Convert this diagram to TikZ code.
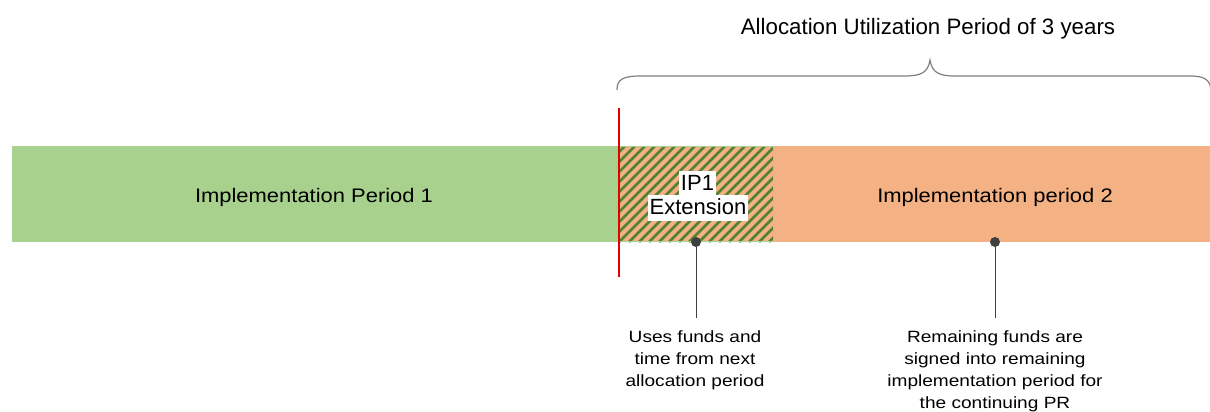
\documentclass[tikz,border=0pt]{standalone}
\usepackage{fontspec}
\setmainfont{Liberation Sans}
\newfontfamily\widefont{Liberation Sans}[FakeStretch=1.12]
\newfontfamily\widesmall{Liberation Sans}[FakeStretch=1.17]
\definecolor{barGreen}{HTML}{A9D18E}
\definecolor{barOrange}{HTML}{F4B183}
\definecolor{stripeGreen}{HTML}{548235}
\definecolor{braceGrey}{HTML}{808080}
\definecolor{dotGrey}{HTML}{404040}
\definecolor{redLine}{HTML}{E00000}
\tikzset{
  titletext/.style={font=\fontsize{22.3}{26}\selectfont, text=black, anchor=base},
  bigtext/.style={font=\widefont\fontsize{19.6}{24}\selectfont, text=black, anchor=base},
  smalltext/.style={font=\widesmall\fontsize{16.3}{22}\selectfont, align=center, text=black, anchor=base},
  whitelabel/.style={font=\fontsize{22}{26}\selectfont, fill=white, inner xsep=2pt, inner ysep=1.5pt, text height=18pt, text depth=5pt, anchor=base},
  pin/.style={draw=dotGrey, line width=0.8pt},
  dotmark/.style={circle, fill=dotGrey, minimum size=10pt, inner sep=0pt},
}
\begin{document}
\begin{tikzpicture}[x=1pt,y=-1pt]
\useasboundingbox (0,0) rectangle (1210,412);
% bars
\fill[barGreen] (12,146) rectangle (619,242);
\fill[barOrange] (773,146) rectangle (1210,242);
\fill[barOrange] (619,146) rectangle (773,242);
\begin{scope}
\clip (619,146) rectangle (773,242);
\foreach \i in {0,10,...,260} {
  \draw[stripeGreen, line width=2.8pt] (519+\i,242) -- ++(100,-100);
}
\end{scope}
\draw[barGreen, line width=0.8pt] (619,146.5) rectangle (773,241.5);
% nodes for bar labels
\node[bigtext] (ip1) at (314,202.3) {Implementation Period 1};
\node[bigtext] (ip2) at (995,202.3) {Implementation period 2};
\node[whitelabel] (ext1) at (697.5,190) {IP1};
\node[whitelabel] (ext2) at (698,214.3) {Extension};
% red line
\coordinate (rtop) at (619,108);
\coordinate (rbot) at (619,277);
\draw[redLine, line width=1.6pt] (rtop) -- (rbot);
% brace
\draw[braceGrey, line width=1.2pt] (617,90) .. controls (617,80) and (622,76) .. (640,76)
  -- (905,76) .. controls (922,76) and (928,72) .. (930,60)
  .. controls (932,72) and (938,76) .. (955,76) -- (1190,76)
  .. controls (1205,76) and (1210,80) .. (1211,90);
\node[titletext] (title) at (928,35) {Allocation Utilization Period of 3 years};
% pins
\node[dotmark] (d1) at (696,242) {};
\node[dotmark] (d2) at (995,242) {};
\coordinate (e1) at (696,318);
\coordinate (e2) at (995,318);
\draw[pin] (d1) -- (e1);
\draw[pin] (d2) -- (e2);
\node[smalltext] (t1) at (695,386.3) {Uses funds and\\time from next\\allocation period};
\node[smalltext] (t2) at (995,408.3) {Remaining funds are\\signed into remaining\\implementation period for\\the continuing PR};
\end{tikzpicture}
\end{document}
